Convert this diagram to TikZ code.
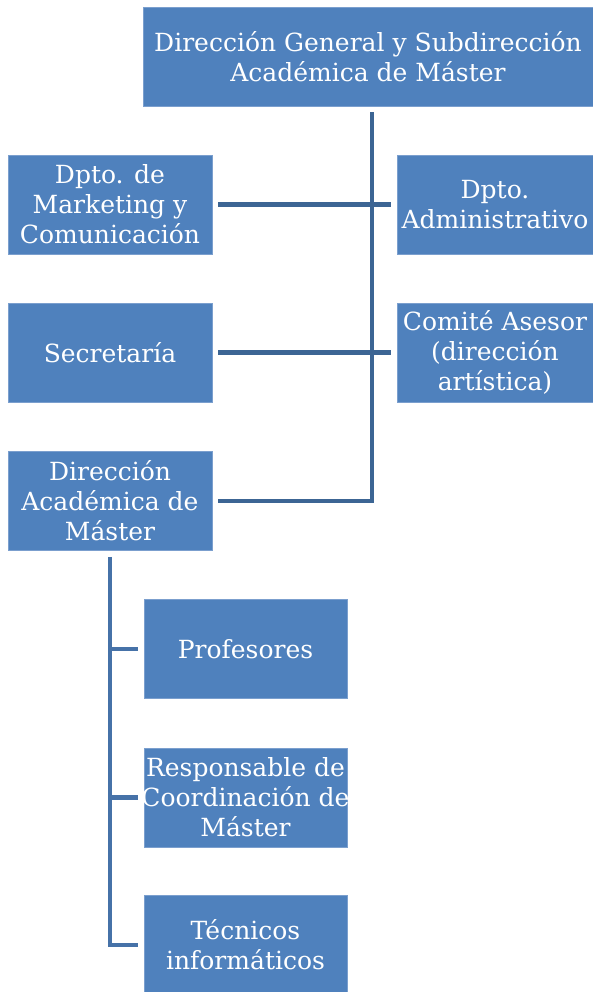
\documentclass[tikz,border=0pt]{standalone}
\usepackage{fontspec}
\setmainfont{DejaVu Serif}
\usetikzlibrary{positioning}

\begin{document}
\begin{tikzpicture}[
            x=1pt,y=-1pt,
            unit/.style={fill=boxblue, draw=boxedge, line width=.8pt,
                text=white, align=center, inner sep=0pt,
                font=\fontsize{25}{30}\selectfont,
                minimum height=99pt},
            conn/.style={draw=trunkblue, line width=4.5pt},
            sub/.style={draw=subblue, line width=4.5pt}]

        \definecolor{boxblue}{HTML}{4F81BD}
        \definecolor{boxedge}{HTML}{7B9FCE}
        \definecolor{trunkblue}{HTML}{3C6594}
        \definecolor{subblue}{HTML}{4672A8}

        \useasboundingbox (0,0) rectangle (593,992);

        % direccion y departamentos
        \node[unit, minimum width=450pt] (dg) at (368,56.5)
            {Dirección General y Subdirección\\Académica de Máster};
        \node[unit, minimum width=204pt] (mkt) at (110,204.5)
            {Dpto. de\\Marketing y\\Comunicación};
        \node[unit, minimum width=196pt] (adm) at (495,204.5)
            {Dpto.\\Administrativo};
        \node[unit, minimum width=204pt] (sec) at (110,352.5) {Secretaría};
        \node[unit, minimum width=196pt] (com) at (495,352.5)
            {Comité Asesor\\(dirección\\artística)};
        \node[unit, minimum width=204pt] (dam) at (110,501)
            {Dirección\\Académica de\\Máster};

        % equipo academico
        \node[unit, minimum width=203pt] (prof) at (245.5,649) {Profesores};
        \node[unit, minimum width=203pt, inner xsep=-6pt] (resp) at (245.5,797.5)
            {Responsable de\\Coordinación de\\Máster};
        \node[unit, minimum width=203pt] (tec) at (245.5,945)
            {Técnicos\\informáticos};

        \draw[conn, shorten <=6pt, shorten >=6pt]
            ([xshift=4pt]dg.south) |- (dam.east);
        \draw[conn, shorten <=6pt, shorten >=6pt] (mkt) -- (adm);
        \draw[conn, shorten <=6pt, shorten >=6pt] (sec) -- (com);

        \draw[sub, shorten <=6pt, shorten >=6pt] (dam.south) |- (tec.west);
        \draw[sub, shorten >=6pt] (dam.south |- prof.west) -- (prof.west);
        \draw[sub, shorten >=6pt] (dam.south |- resp.west) -- (resp.west);
    \end{tikzpicture}
\end{document}
